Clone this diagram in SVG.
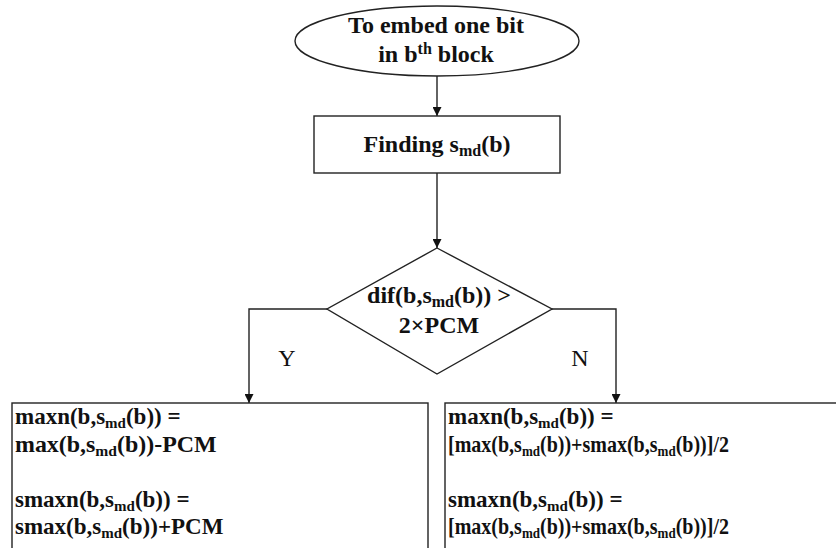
<svg xmlns="http://www.w3.org/2000/svg" width="836" height="548" viewBox="0 0 836 548">
<style>
.s{fill:#fff;stroke:#222;stroke-width:1.4}
.t{font-family:"Liberation Serif","Times New Roman",serif;font-weight:bold;font-size:23px;fill:#111}
.big{font-size:24px}
.c{text-anchor:middle}
.l{font-family:"Liberation Serif","Times New Roman",serif;font-size:24px;fill:#111}
.sub{font-size:15px}
.big .sub{font-size:16px}
.e{fill:none;stroke:#222;stroke-width:1.4}
</style>
<defs>
<marker id="ah" viewBox="0 0 10 10" refX="10" refY="5" markerWidth="12" markerHeight="9" markerUnits="userSpaceOnUse" orient="auto">
<path d="M0,0 L10,5 L0,10 z" fill="#111"/>
</marker>
</defs>
<rect width="836" height="548" fill="#fff"/>
<g id="connectors">
<line class="e" x1="437" y1="76" x2="437" y2="116" marker-end="url(#ah)"/>
<line class="e" x1="437" y1="173" x2="437" y2="248" marker-end="url(#ah)"/>
<polyline class="e" points="327,309 249,309 249,403" marker-end="url(#ah)"/>
<polyline class="e" points="552,309 616,309 616,403" marker-end="url(#ah)"/>
<text class="l c" x="287" y="366">Y</text>
<text class="l c" x="580" y="366">N</text>
</g>
<g id="start">
<ellipse class="s" cx="437" cy="41" rx="142" ry="35"/>
<text class="t big c" x="436" y="33">To embed one bit</text>
<text class="t big c" x="436" y="62">in b<tspan class="sub" dy="-8">th</tspan><tspan dy="8"> block</tspan></text>
</g>
<g id="find">
<rect class="s" x="314" y="116" width="246" height="57"/>
<text class="t big c" x="437" y="152">Finding s<tspan class="sub" dy="4">md</tspan><tspan dy="-4">(b)</tspan></text>
</g>
<g id="decision">
<polygon class="s" points="437,248 552,309 437,374 327,309"/>
<text class="t big c" x="439" y="303">dif(b,s<tspan class="sub" dy="4">md</tspan><tspan dy="-4">(b)) &gt;</tspan></text>
<text class="t big c" x="439" y="333">2×PCM</text>
</g>
<g id="yes">
<rect class="s" x="12" y="403" width="416" height="160"/>
<text class="t" x="15" y="424">maxn(b,s<tspan class="sub" dy="4">md</tspan><tspan dy="-4">(b)) =</tspan></text>
<text class="t" transform="translate(15,452) scale(1.04,1)" x="0" y="0">max(b,s<tspan class="sub" dy="4">md</tspan><tspan dy="-4">(b))-PCM</tspan></text>
<text class="t" x="15" y="507">smaxn(b,s<tspan class="sub" dy="4">md</tspan><tspan dy="-4">(b)) =</tspan></text>
<text class="t" x="15" y="534">smax(b,s<tspan class="sub" dy="4">md</tspan><tspan dy="-4">(b))+PCM</tspan></text>
</g>
<g id="no">
<rect class="s" x="445" y="403" width="400" height="160"/>
<text class="t" x="448" y="424">maxn(b,s<tspan class="sub" dy="4">md</tspan><tspan dy="-4">(b)) =</tspan></text>
<text class="t" transform="translate(448,452) scale(0.87,1)" x="0" y="0">[max(b,s<tspan class="sub" dy="4">md</tspan><tspan dy="-4">(b))+smax(b,s</tspan><tspan class="sub" dy="4">md</tspan><tspan dy="-4">(b))]/2</tspan></text>
<text class="t" x="448" y="507">smaxn(b,s<tspan class="sub" dy="4">md</tspan><tspan dy="-4">(b)) =</tspan></text>
<text class="t" transform="translate(448,534) scale(0.87,1)" x="0" y="0">[max(b,s<tspan class="sub" dy="4">md</tspan><tspan dy="-4">(b))+smax(b,s</tspan><tspan class="sub" dy="4">md</tspan><tspan dy="-4">(b))]/2</tspan></text>
</g>
</svg>
